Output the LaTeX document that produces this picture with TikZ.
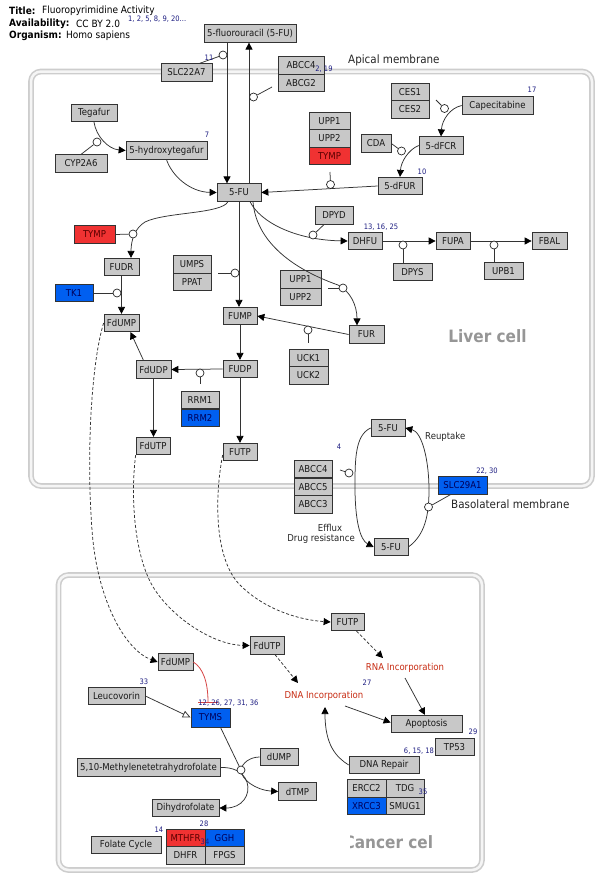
\documentclass[tikz,border=0pt]{standalone}
\usepackage{fontspec}
\setmainfont{DejaVu Sans}[FakeStretch=0.9]
\usetikzlibrary{arrows.meta}
\definecolor{boxgray}{RGB}{200,200,200}
\definecolor{genered}{RGB}{240,50,50}
\definecolor{geneblue}{RGB}{0,95,240}
\definecolor{refnavy}{RGB}{30,30,130}
\definecolor{compgray}{RGB}{205,205,205}
\definecolor{labgray}{RGB}{150,150,150}
\definecolor{incred}{RGB}{200,45,20}
\definecolor{inhred}{RGB}{215,70,70}
\newcommand\boxfont{\fontsize{9.5}{11}\selectfont}
\newcommand\hdrfont{\fontsize{10}{11}\selectfont}
\newcommand\numfont{\fontsize{7.5}{8}\selectfont}
\newcommand\memfont{\fontsize{11.5}{13}\selectfont}
\newcommand\cellfont{\fontsize{17}{20}\selectfont\bfseries}
\begin{document}
\begin{tikzpicture}[x=1pt,y=-1pt,
  every node/.style={font=\boxfont, inner sep=0pt},
  mw/.style={minimum width=#1pt},
  mh/.style={minimum height=#1pt},
  bx/.style={draw=black!80, fill=boxgray, line width=0.7pt, minimum height=17.5pt, text=black!90},
  rd/.style={bx, fill=genered, text=red!35!black},
  bl/.style={bx, fill=geneblue, text=blue!35!black},
  catc/.style={circle, draw=black!85, fill=white, line width=0.7pt, minimum size=8pt, inner sep=0pt},
  lnk/.style={draw=black!80, line width=0.75pt},
  arr/.style={lnk, -{Triangle[length=7pt,width=7pt,color=black]}},
  darr/.style={arr, dash pattern=on 3pt off 2pt},
  oarr/.style={lnk, -{Triangle[open,length=8pt,width=7pt]}},
  inh/.style={draw=inhred, line width=0.8pt},
  refn/.style={text=refnavy, font=\numfont},
  inc/.style={text=incred, font=\boxfont},
  compbox/.style={draw=compgray, line width=1.6pt, double=black!4, double distance=2.5pt, rounded corners=10pt}
]
\useasboundingbox (0,0) rectangle (600,878);
\fill[white] (0,0) rectangle (600,878);

% compartments
\draw[compbox] (31,71.5) rectangle (592,486);
\draw[compbox] (58.5,575) rectangle (482,870);

% header
\node[anchor=west, font=\hdrfont\bfseries] (h1) at (9,11) {Title:};
\node[anchor=west, font=\hdrfont] (h1v) at (42,11) {Fluoropyrimidine Activity};
\node[anchor=west, font=\hdrfont\bfseries] (h2) at (9,23.5) {Availability:};
\node[anchor=west, font=\hdrfont] (h2v) at (76,23.5) {CC BY 2.0};
\node[anchor=west, refn] (h2r) at (128,19) {1, 2, 5, 8, 9, 20...};
\node[anchor=west, font=\hdrfont\bfseries] (h3) at (9,35.5) {Organism:};
\node[anchor=west, font=\hdrfont] (h3v) at (66,35.5) {Homo sapiens};

% labels
\node[anchor=west, font=\memfont, text=black!85] (apical) at (348,60) {Apical membrane};
\node[font=\cellfont, text=labgray] (livlab) at (487.5,336) {Liver cell};
\node[anchor=west, font=\memfont, text=black!85] (baso) at (451,504) {Basolateral membrane};
\node[anchor=west, text=black!85] (reup) at (425,437) {Reuptake};
\node[text=black!85] (efflux) at (330,527.5) {Efflux};
\node[text=black!85] (drugres) at (321,539) {Drug resistance};
\begin{scope}
\clip (350,825) rectangle (432,860);
\node[font=\cellfont, text=labgray] (canlab) at (391,842) {Cancer cell};
\end{scope}

% ---------- liver nodes
\node[bx, mw=92] (fuext) at (250,33.5) {5-fluorouracil (5-FU)};
\node[bx, mw=51] (slc22a7) at (186.5,72.5) {SLC22A7};
\node[bx, mw=46] (abcc4a) at (301,65.5) {ABCC4};
\node[bx, mw=46] (abcg2) at (301,83) {ABCG2};
\node[bx, mw=46] (tegafur) at (94,113) {Tegafur};
\node[bx, mw=52] (cyp2a6) at (81,163.5) {CYP2A6};
\node[bx, mw=81] (hteg) at (166.5,150.5) {5-hydroxytegafur};
\node[bx, mw=44] (fu) at (239,192.5) {5-FU};
\node[bx, mw=38] (ces1) at (410,92) {CES1};
\node[bx, mw=38] (ces2) at (410,109.5) {CES2};
\node[bx, mw=71] (cape) at (497.5,105.5) {Capecitabine};
\node[bx, mw=41] (upp1a) at (329.5,121) {UPP1};
\node[bx, mw=41] (upp2a) at (329.5,138.5) {UPP2};
\node[rd, mw=41] (tympa) at (329.5,156) {TYMP};
\node[bx, mw=30] (cda) at (376,143.5) {CDA};
\node[bx, mw=44] (dfcr) at (441,145.5) {5-dFCR};
\node[bx, mw=44] (dfur) at (400,186) {5-dFUR};
\node[rd, mw=41] (tympb) at (94.5,234.5) {TYMP};
\node[bx, mw=35] (fudr) at (121.5,267) {FUDR};
\node[bl, mw=38] (tk1) at (74,293) {TK1};
\node[bx, mw=35] (fdump) at (121.5,323) {FdUMP};
\node[bx, mw=38] (umps) at (192,264.5) {UMPS};
\node[bx, mw=38] (ppat) at (192,282) {PPAT};
\node[bx, mw=34] (fump) at (240,316) {FUMP};
\node[bx, mw=35] (fdudp) at (153.5,369.5) {FdUDP};
\node[bx, mw=34] (fudp) at (240,369) {FUDP};
\node[bx, mw=41] (upp1b) at (300.5,279.5) {UPP1};
\node[bx, mw=41] (upp2b) at (300.5,297) {UPP2};
\node[bx, mw=38] (dpyd) at (334,215.5) {DPYD};
\node[bx, mw=34] (dhfu) at (365,241) {DHFU};
\node[bx, mw=34] (fupa) at (453,241) {FUPA};
\node[bx, mw=35] (fbal) at (549.5,241) {FBAL};
\node[bx, mw=39] (dpys) at (412.5,272) {DPYS};
\node[bx, mw=39] (upb1) at (503.5,271) {UPB1};
\node[bx, mw=35] (fur) at (366.5,334.5) {FUR};
\node[bx, mw=39] (uck1) at (308.5,358) {UCK1};
\node[bx, mw=39] (uck2) at (308.5,375.5) {UCK2};
\node[bx, mw=38] (rrm1) at (200,400) {RRM1};
\node[bl, mw=38] (rrm2) at (200,418) {RRM2};
\node[bx, mw=34] (fdutp) at (153,446) {FdUTP};
\node[bx, mw=34] (futp) at (240,452) {FUTP};
\node[bx, mw=34] (fuup) at (388,428) {5-FU};
\node[bx, mw=34] (fudn) at (391,547) {5-FU};
\node[bx, mw=38] (abcc4b) at (313,469) {ABCC4};
\node[bx, mw=38] (abcc5) at (313,487) {ABCC5};
\node[bx, mw=38] (abcc3) at (313,504.5) {ABCC3};
\node[bl, mw=49] (slc29a1) at (462.5,485.5) {SLC29A1};

% ---------- cancer nodes
\node[bx, mw=35] (fdump2) at (175.5,662) {FdUMP};
\node[bx, mw=34] (fdutp2) at (267,645.5) {FdUTP};
\node[bx, mw=33] (futp2) at (347.5,622) {FUTP};
\node[inc] (rnainc) at (405,668) {RNA Incorporation};
\node[inc] (dnainc) at (324,696) {DNA Incorporation};
\node[bx, mw=71] (apop) at (426.5,724) {Apoptosis};
\node[bx, mw=39] (tp53) at (454.5,747) {TP53};
\node[bx, mw=70] (dnarep) at (384,765) {DNA Repair};
\node[bx, mw=39] (ercc2) at (366.5,788.5) {ERCC2};
\node[bx, mw=38] (tdg) at (405,788.5) {TDG};
\node[bl, mw=39] (xrcc3) at (366.5,806) {XRCC3};
\node[bx, mw=38] (smug1) at (405,806) {SMUG1};
\node[bx, mw=57] (leuco) at (116.5,696) {Leucovorin};
\node[bl, mw=39, mh=19] (tyms) at (210.5,717.5) {TYMS};
\node[bx, mw=38] (dump) at (279,757) {dUMP};
\node[bx, mw=38] (dtmp) at (297.5,791.5) {dTMP};
\node[bx, mw=143] (methf) at (148.5,767.5) {5,10-Methylenetetrahydrofolate};
\node[bx, mw=67] (dhf) at (185.5,808) {Dihydrofolate};
\node[bx, mw=70] (folate) at (126,845) {Folate Cycle};
\node[rd, mw=39] (mthfr) at (185.5,838) {MTHFR};
\node[bl, mw=39] (ggh) at (224.5,838) {GGH};
\node[bx, mw=39] (dhfr) at (185.5,855.5) {DHFR};
\node[bx, mw=39] (fpgs) at (224.5,855.5) {FPGS};

% ---------- reactions (liver)
\draw[arr] ([xshift=-23pt]fuext.south) -- ([xshift=-12pt]fu.north);
\draw[arr] ([xshift=10pt]fu.north) -- ([xshift=-1pt]fuext.south);
\draw[arr] (tegafur.south) .. controls (96,136) and (108,149) .. (hteg.west);
\draw[arr] (hteg.south) .. controls (172,176) and (190,192) .. (fu.west);
\draw[arr] (dfur.west) -- (fu.east);
\draw[arr] (cape.west) .. controls (450,108) and (442,120) .. (dfcr.north);
\draw[arr] (dfcr.west) .. controls (408,150) and (401,162) .. (dfur.north);
\draw[arr] ([xshift=-11pt]fu.south) .. controls (222,214) and (165,212) .. (145,222) .. controls (135,228) and (131,240) .. ([xshift=9.5pt]fudr.north);
\draw[arr] (fudr.south) -- (fdump.north);
\draw[arr] (fu.south) -- (fu.south |- fump.north);
\draw[arr] ([xshift=11pt]fu.south) .. controls (260,222) and (295,240) .. (dhfu.west);
\draw[arr] ([xshift=14pt]fu.south) .. controls (256,240) and (290,268) .. (338,285) .. controls (350,291) and (357,305) .. ([xshift=-9.5pt]fur.north);
\draw[arr] (dhfu.east) -- (fupa.west);
\draw[arr] (fupa.east) -- (fbal.west);
\draw[arr] (fur.west) -- (fump.east);
\draw[arr] (fump.south) -- (fudp.north);
\draw[arr] (fudp.west) -- (fdudp.east);
\draw[arr] ([xshift=-10pt]fdudp.north) -- ([xshift=9pt]fdump.south);
\draw[arr] (fdudp.south) -- (fdudp.south |- fdutp.north);
\draw[arr] (fudp.south) -- (futp.north);
\draw[arr] (fudn.east) .. controls (425,535) and (429,515) .. (429,490) .. controls (429,460) and (422,432) .. (fuup.east);
\draw[arr] (fuup.west) .. controls (355,435) and (355,460) .. (355,487) .. controls (355,520) and (360,540) .. (fudn.west);

% dashed transfers
\draw[darr] (fdump.west) .. controls (92,360) and (86,450) .. (92,530) .. controls (97,600) and (125,650) .. (fdump2.west);
\draw[darr] (fdutp.south west) .. controls (130,500) and (135,560) .. (155,590) .. controls (175,620) and (215,645) .. (fdutp2.west);
\draw[darr] ([yshift=-3pt]futp.west) .. controls (214,500) and (215,560) .. (240,585) .. controls (265,610) and (300,620) .. (futp2.west);

% ---------- reactions (cancer)
\coordinate (e24) at (298,683);
\draw[darr] ([xshift=8pt]fdutp2.south) -- (e24);
\coordinate (e25) at (383,658);
\draw[darr] ([xshift=9pt]futp2.south) -- (e25);
\coordinate (s26) at (405,678);
\draw[arr] (s26) -- ([xshift=-1.5pt]apop.north);
\coordinate (s27) at (345,706);
\draw[arr] (s27) -- ([yshift=1.5pt]apop.west);
\coordinate (e28) at (325,707);
\draw[arr] (dnarep.west) .. controls (336,757) and (325,745) .. (e28);
\coordinate (e29) at (208,702);
\draw[inh] (fdump2.east) .. controls (203,668) and (208,682) .. (e29);
\draw[inh] ([xshift=-10pt]e29) -- ([xshift=10pt]e29);
\draw[oarr] (leuco.east) -- (tyms.west);
\coordinate (k31p) at (241,770);
\draw[lnk] ([xshift=10pt]tyms.south) -- (k31p);
\draw[arr] (dump.west) .. controls (250,757) and (242,763) .. (241,770) .. controls (241,779) and (255,790) .. (dtmp.west);
\draw[arr] (methf.east) .. controls (232,767) and (243,771) .. (247,782) .. controls (251,795) and (242,808) .. (dhf.east);

% ---------- catalysis anchors
\node[catc] (k1) at (223,55) {};
\node[catc] (k2) at (253.5,97) {};
\node[catc] (k3) at (97,142) {};
\node[catc] (k5) at (330.5,184.5) {};
\node[catc] (k6) at (444.5,108.5) {};
\node[catc] (k7) at (401.5,151) {};
\node[catc] (k8) at (133,234) {};
\node[catc] (k9) at (117,293) {};
\node[catc] (k10) at (235,273) {};
\node[catc] (k11) at (313,235) {};
\node[catc] (k12) at (343,288) {};
\node[catc] (k13) at (403,245) {};
\node[catc] (k14) at (494,245) {};
\node[catc] (k15) at (308,330) {};
\node[catc] (k17) at (200,373) {};
\node[catc] (k32) at (428.5,507) {};
\node[catc] (k33) at (349,473) {};
\node[catc] (k31) at (k31p) {};

\coordinate (s2) at (272,87);
\coordinate (s5) at (330,172);
\coordinate (s6) at (436,100);
\coordinate (s10) at (218,273);
\coordinate (s12) at (328,288);
\coordinate (s15) at (308,343);
\coordinate (s17) at (200,384);
\coordinate (s33) at (340,470);
\draw[lnk] ([xshift=13pt]slc22a7.north) -- (k1);
\draw[lnk] (s2) -- (k2);
\draw[lnk] (cyp2a6.north) -- (k3);
\draw[lnk] (s5) -- (k5);
\draw[lnk] (s6) -- (k6);
\draw[lnk] (cda.east) -- (k7);
\draw[lnk] (tympb.east) -- (k8);
\draw[lnk] (tk1.east) -- (k9);
\draw[lnk] (s10) -- (k10);
\draw[lnk] ([xshift=-10pt]dpyd.south) -- (k11);
\draw[lnk] (s12) -- (k12);
\draw[lnk] (k13) -- (k13 |- dpys.north);
\draw[lnk] (k14) -- (k14 |- upb1.north);
\draw[lnk] (k15) -- (s15);
\draw[lnk] (k17) -- (s17);
\draw[lnk] ([xshift=-12pt]slc29a1.south) -- (k32);
\draw[lnk] (s33) -- (k33);

% literature references
\node[refn] (r11) at (209,58) {11};
\node[refn] (r219) at (324,69) {2, 19};
\node[refn] (r7) at (207,135) {7};
\node[refn] (r17) at (532,90) {17};
\node[refn] (r10) at (422,172) {10};
\node[refn] (r131625) at (381,227) {13, 16, 25};
\node[refn] (r4) at (339,447) {4};
\node[refn] (r2230) at (487,471) {22, 30};
\node[refn] (r33) at (144,682) {33};
\node[refn] (r12) at (228.5,703) {12, 26, 27, 31, 36};
\node[refn] (r27) at (367,683) {27};
\node[refn] (r29) at (473,732) {29};
\node[refn] (r61518) at (419,751) {6, 15, 18};
\node[refn] (r35) at (423,792) {35};
\node[refn] (r14) at (159,830) {14};
\node[refn] (r28) at (204,824) {28};
\node[refn] (r34) at (205,842) {34};
\end{tikzpicture}
\end{document}
